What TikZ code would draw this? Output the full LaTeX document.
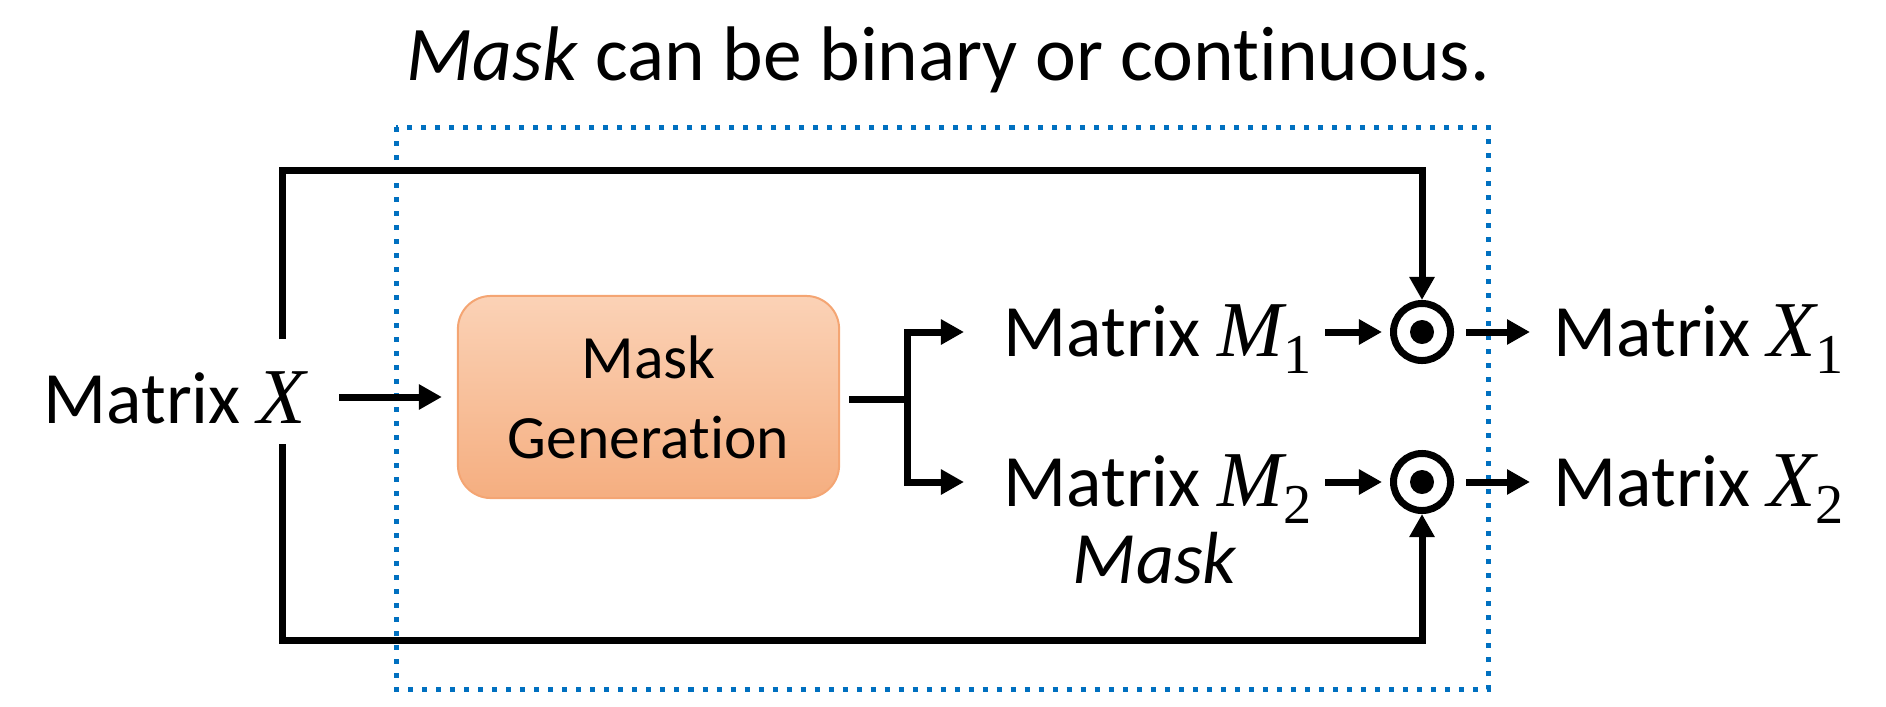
\documentclass[tikz,border=0pt]{standalone}
\usepackage{amsmath}
\usepackage{xcolor}
\usepackage{fontspec}
\setmainfont{Carlito}[Ligatures=NoCommon]
\newfontfamily\varfont{Liberation Serif}
\newcommand{\mvar}[2]{{\varfont\itshape\fontsize{22.5}{26}\selectfont #1}\raisebox{-0.24em}{\varfont\fontsize{16}{16}\selectfont #2}}
\usepackage{tikz}
\usetikzlibrary{arrows.meta}
\usetikzlibrary{calc}

\definecolor{frameblue}{RGB}{0,112,192}
\definecolor{gentop}{RGB}{251,210,182}
\definecolor{genbot}{RGB}{245,174,128}
\definecolor{genline}{RGB}{244,165,115}

\begin{document}
\begin{tikzpicture}[x=0.01cm,y=-0.01cm,line width=0.07cm,
	arr/.style={-{Triangle[length=0.23cm,width=0.24cm]}},
	lbl/.style={font=\fontsize{21}{25}\selectfont,inner sep=0pt,text height=0.48cm,text depth=0pt},
	genbox/.style={draw=genline,line width=0.02cm,top color=gentop,bottom color=genbot,rounded corners=0.33cm,
		minimum width=3.81cm,minimum height=2.02cm,align=center,font=\fontsize{17.5}{22.8}\selectfont},
	prod/.style={circle,draw,minimum size=0.57cm,inner sep=0pt,
		path picture={\fill (path picture bounding box.center) circle (0.12cm);}},
	dotframe/.style={draw=frameblue,line width=0.05cm,dash pattern=on 0.05cm off 0.09cm}]
	\useasboundingbox (0,0) rectangle (1886,706);

	\node[lbl,font=\fontsize{22}{26}\selectfont] (title) at (948,56) {\textit{Mask} can be binary or continuous.};
	\draw[dotframe] (396,127) rectangle (1488,689);

	\node[lbl,anchor=west] (X) at (40,399) {Matrix {\varfont\itshape\fontsize{22.5}{26}\selectfont X}};
	\node[genbox] (gen) at (648.5,397) {Mask\\Generation};
	\coordinate (split) at (907,399);
	\node[lbl,anchor=west] (M1) at (1000,332) {Matrix \mvar{M}{1}};
	\node[lbl,anchor=west] (M2) at (1000,482) {Matrix \mvar{M}{2}};
	\node[lbl] (mask) at (1155,559) {\textit{Mask}};
	\node[prod] (p1) at (1422,332) {};
	\node[prod] (p2) at (1422,482) {};
	\node[lbl,anchor=west] (X1) at (1550,332) {Matrix \mvar{X}{1}};
	\node[lbl,anchor=west] (X2) at (1550,482) {Matrix \mvar{X}{2}};
	\coordinate (up) at (282,339);
	\coordinate (top) at (282,170);
	\coordinate (dn) at (282,444);
	\coordinate (bot) at (282,640);

	\draw[arr,shorten <=0.3cm,shorten >=0.15cm] (gen.west -| X.east) -- (gen.west);
	\draw[shorten <=0.09cm] (gen.east |- split) -- (split);
	\draw[arr,shorten >=0.36cm] (split) |- (M1.west);
	\draw[arr,shorten >=0.36cm] (split) |- (M2.west);
	\foreach \i in {1,2}{
		\draw[arr,shorten <=0.1cm,shorten >=0.08cm] (M\i.east) -- (p\i);
		\draw[arr,shorten <=0.12cm,shorten >=0.2cm] (p\i) -- (X\i.west);
		}
	\draw[arr] (up) -- (top) -| (p1);
	\draw[arr] (dn) -- (bot) -| (p2);
\end{tikzpicture}
\end{document}
